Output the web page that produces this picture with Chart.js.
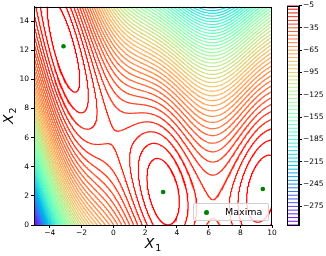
<!DOCTYPE html>
<html><head><meta charset="utf-8">
<script src="https://cdn.jsdelivr.net/npm/chart.js@4.4.1/dist/chart.umd.min.js"></script>
<style>
html,body{margin:0;padding:0;background:#fff;}
#wrap{position:relative;width:326px;height:256px;overflow:hidden;}
#main{position:absolute;left:0;top:0;}
#cb{position:absolute;left:276px;top:0;}
#leg{position:absolute;left:193px;top:203px;width:74px;height:16px;border:1px solid #d0d0d0;border-radius:2px;background:rgba(255,255,255,0.8);font-family:"DejaVu Sans";font-size:9.5px;color:#000;}
#leg .dot{position:absolute;left:10px;top:6px;width:5px;height:5px;border-radius:50%;background:#008000;}
#leg .txt{position:absolute;left:31px;top:1px;line-height:14px;}
</style></head>
<body>
<div id="wrap">
<canvas id="main" width="326" height="256"></canvas>
<canvas id="cb" width="50" height="256"></canvas>
<div id="leg"><div class="dot"></div><div class="txt">Maxima</div></div>
</div>
<script>
// ---- data ----
const xTicks = [-4, -2, 0, 2, 4, 6, 8, 10];
const yTicks = [0, 2, 4, 6, 8, 10, 12, 14];
const cbTicks = [-5, -35, -65, -95, -125, -155, -185, -215, -245, -275];
const levels = [-300,-295,-290,-285,-280,-275,-270,-265,-260,-255,-250,-245,-240,-235,-230,-225,-220,-215,-210,-205,
  -200,-195,-190,-185,-180,-175,-170,-165,-160,-155,-150,-145,-140,-135,-130,-125,-120,-115,-110,-105,
  -100,-95,-90,-85,-80,-75,-70,-65,-60,-55,-50,-45,-40,-35,-30,-25,-20,-15,-10,-5];
const maximaX1 = [-3.14, 3.14, 9.42];
const maximaX2 = [12.27, 2.27, 2.47];
const xRange = [-5, 10];
const yRange = [0, 15];
const xLabel = ['X', '1'];
const yLabel = ['X', '2'];
// surface shown: negative Branin function
function negBranin(x1, x2) {
  const b = 5.1 / (4 * Math.PI * Math.PI), c = 5 / Math.PI, r = 6, s = 10, t = 1 / (8 * Math.PI);
  const q = x2 - b * x1 * x1 + c * x1 - r;
  return -(q * q + s * (1 - t) * Math.cos(x1) + s);
}

// ---- grid ----
const N = 300;
const xs = [], ys = [];
for (let i = 0; i <= N; i++) { xs.push(xRange[0] + (xRange[1] - xRange[0]) * i / N); ys.push(yRange[0] + (yRange[1] - yRange[0]) * i / N); }
const Z = [];
for (let j = 0; j <= N; j++) { const row = []; for (let i = 0; i <= N; i++) row.push(negBranin(xs[i], ys[j])); Z.push(row); }

function contour(L) {
  const nx = xs.length - 1, ny = ys.length - 1;
  const pts = new Map(), adj = new Map();
  const HN = (ny + 1) * nx;
  const H = (i, j) => j * nx + i;
  const V = (i, j) => HN + j * (nx + 1) + i;
  function pt(id, i0, j0, i1, j1) {
    if (!pts.has(id)) {
      const z0 = Z[j0][i0], z1 = Z[j1][i1];
      const t = (L - z0) / (z1 - z0);
      pts.set(id, [xs[i0] + t * (xs[i1] - xs[i0]), ys[j0] + t * (ys[j1] - ys[j0])]);
    }
    return id;
  }
  function link(a, b) {
    if (!adj.has(a)) adj.set(a, []);
    if (!adj.has(b)) adj.set(b, []);
    adj.get(a).push(b); adj.get(b).push(a);
  }
  for (let j = 0; j < ny; j++) for (let i = 0; i < nx; i++) {
    const A = Z[j][i] > L, B = Z[j][i + 1] > L, C = Z[j + 1][i + 1] > L, D = Z[j + 1][i] > L;
    const bo = A !== B ? pt(H(i, j), i, j, i + 1, j) : -1;
    const ri = B !== C ? pt(V(i + 1, j), i + 1, j, i + 1, j + 1) : -1;
    const to = C !== D ? pt(H(i, j + 1), i, j + 1, i + 1, j + 1) : -1;
    const le = D !== A ? pt(V(i, j), i, j, i, j + 1) : -1;
    const cr = [bo, ri, to, le].filter(v => v >= 0);
    if (cr.length === 2) link(cr[0], cr[1]);
    else if (cr.length === 4) {
      const cen = (Z[j][i] + Z[j][i + 1] + Z[j + 1][i + 1] + Z[j + 1][i]) / 4 > L;
      if (A && C) { if (cen) { link(bo, ri); link(to, le); } else { link(bo, le); link(ri, to); } }
      else { if (cen) { link(bo, le); link(ri, to); } else { link(bo, ri); link(to, le); } }
    }
  }
  const visited = new Set();
  const out = [];
  function walk(start) {
    let cur = start; const chain = [];
    while (true) {
      visited.add(cur);
      const p = pts.get(cur); chain.push({ x: p[0], y: p[1] });
      const nb = adj.get(cur) || [];
      let nxt = -1;
      for (const n of nb) if (!visited.has(n)) { nxt = n; break; }
      if (nxt < 0) {
        if (chain.length > 2 && nb.includes(start)) { const s = pts.get(start); chain.push({ x: s[0], y: s[1] }); }
        break;
      }
      cur = nxt;
    }
    if (out.length) out.push({ x: chain[0].x, y: null });
    for (const c of chain) out.push(c);
  }
  for (const [id, nb] of adj) if (nb.length === 1 && !visited.has(id)) walk(id);
  for (const [id] of adj) if (!visited.has(id)) walk(id);
  return out;
}

const lmin = Math.min(...levels), lmax = Math.max(...levels);
function rainbow(v) {
  const x = (v - lmin) / (lmax - lmin);
  const cl = u => Math.max(0, Math.min(1, u));
  const r = cl(Math.abs(2 * x - 0.5)), g = cl(Math.sin(Math.PI * x)), b = cl(Math.cos(Math.PI * x / 2));
  return `rgb(${Math.round(r * 255)},${Math.round(g * 255)},${Math.round(b * 255)})`;
}

const datasets = [{
  label: 'Maxima', type: 'line', showLine: false,
  data: maximaX1.map((x, k) => ({ x: x, y: maximaX2[k] })),
  pointRadius: 2.3, pointBackgroundColor: '#008000', pointBorderWidth: 0, borderColor: '#008000', order: 0
}];
for (const L of levels) {
  datasets.push({
    label: 'level ' + L, type: 'line', data: contour(L), borderColor: rainbow(L), borderWidth: 1.2,
    pointRadius: 0, fill: false, tension: 0, spanGaps: false, order: 1
  });
}

const fmt = v => String(v).replace('-', '\u2212');
const frame = {
  id: 'frame',
  afterDraw(chart) {
    const a = chart.chartArea, ctx = chart.ctx;
    ctx.save(); ctx.strokeStyle = '#000'; ctx.lineWidth = 1;
    ctx.strokeRect(Math.round(a.left) + 0.5, Math.round(a.top) + 0.5, Math.round(a.right - a.left) - 1, Math.round(a.bottom - a.top) - 1);
    ctx.restore();
  }
};
// axis titles drawn as mathtext-like X with subscript, placed from the scales
function drawSub(ctx, parts) {
  ctx.font = 'italic 14px "DejaVu Sans"';
  const w1 = ctx.measureText(parts[0]).width;
  ctx.font = '9.5px "DejaVu Sans"';
  const w2 = ctx.measureText(parts[1]).width;
  const x0 = -(w1 + w2 + 1) / 2;
  ctx.font = 'italic 14px "DejaVu Sans"';
  ctx.fillText(parts[0], x0, 0);
  ctx.font = '9.5px "DejaVu Sans"';
  ctx.fillText(parts[1], x0 + w1 + 1, 3);
}
const titles = {
  id: 'titles',
  afterDraw(chart) {
    const ctx = chart.ctx, sx = chart.scales.x, sy = chart.scales.y;
    ctx.save(); ctx.fillStyle = '#000'; ctx.textBaseline = 'alphabetic'; ctx.textAlign = 'left';
    ctx.translate((sx.left + sx.right) / 2, sx.bottom - 8);
    drawSub(ctx, xLabel);
    ctx.restore();
    ctx.save(); ctx.fillStyle = '#000'; ctx.textBaseline = 'alphabetic'; ctx.textAlign = 'left';
    ctx.translate(sy.left + 13, (sy.top + sy.bottom) / 2);
    ctx.rotate(-Math.PI / 2);
    drawSub(ctx, yLabel);
    ctx.restore();
  }
};
const tickFont = { family: 'DejaVu Sans', size: 7.5 };

new Chart(document.getElementById('main'), {
  type: 'line',
  data: { datasets },
  options: {
    responsive: false, animation: false, events: [],
    layout: { padding: { left: 0, right: 54, top: 3, bottom: 0 } },
    plugins: { legend: { display: false }, tooltip: { enabled: false } },
    scales: {
      x: {
        type: 'linear', min: xRange[0], max: xRange[1],
        afterBuildTicks: s => { s.ticks = xTicks.map(v => ({ value: v })); },
        afterFit: s => { s.height = 31; },
        ticks: { font: tickFont, color: '#000', padding: 1, maxRotation: 0, callback: fmt },
        grid: { drawOnChartArea: false, tickLength: 3, color: '#000' },
        border: { color: '#000' }
      },
      y: {
        type: 'linear', min: yRange[0], max: yRange[1],
        afterBuildTicks: s => { s.ticks = yTicks.map(v => ({ value: v })); },
        afterFit: s => { s.width = 34; },
        ticks: { font: tickFont, color: '#000', padding: 2, callback: fmt },
        grid: { drawOnChartArea: false, tickLength: 3, color: '#000' },
        border: { color: '#000' }
      }
    }
  },
  plugins: [frame, titles]
});

// colorbar
const cbSets = levels.map(L => ({
  type: 'line', data: [{ x: 0, y: L }, { x: 1, y: L }], borderColor: rainbow(L), borderWidth: 1, pointRadius: 0
}));
new Chart(document.getElementById('cb'), {
  type: 'line',
  data: { datasets: cbSets },
  options: {
    responsive: false, animation: false, events: [],
    layout: { padding: { left: 11, right: 0, top: 3, bottom: 31 } },
    plugins: { legend: { display: false }, tooltip: { enabled: false } },
    scales: {
      x: { type: 'linear', min: 0, max: 1, display: false },
      y: {
        type: 'linear', position: 'right', min: lmin, max: lmax,
        afterBuildTicks: s => { s.ticks = cbTicks.map(v => ({ value: v })); },
        afterFit: s => { s.width = 27; },
        ticks: { font: tickFont, color: '#000', padding: 1, callback: fmt },
        grid: { drawOnChartArea: false, tickLength: 3, color: '#000' },
        border: { color: '#000' }
      }
    }
  },
  plugins: [frame]
});
</script>
</body></html>
